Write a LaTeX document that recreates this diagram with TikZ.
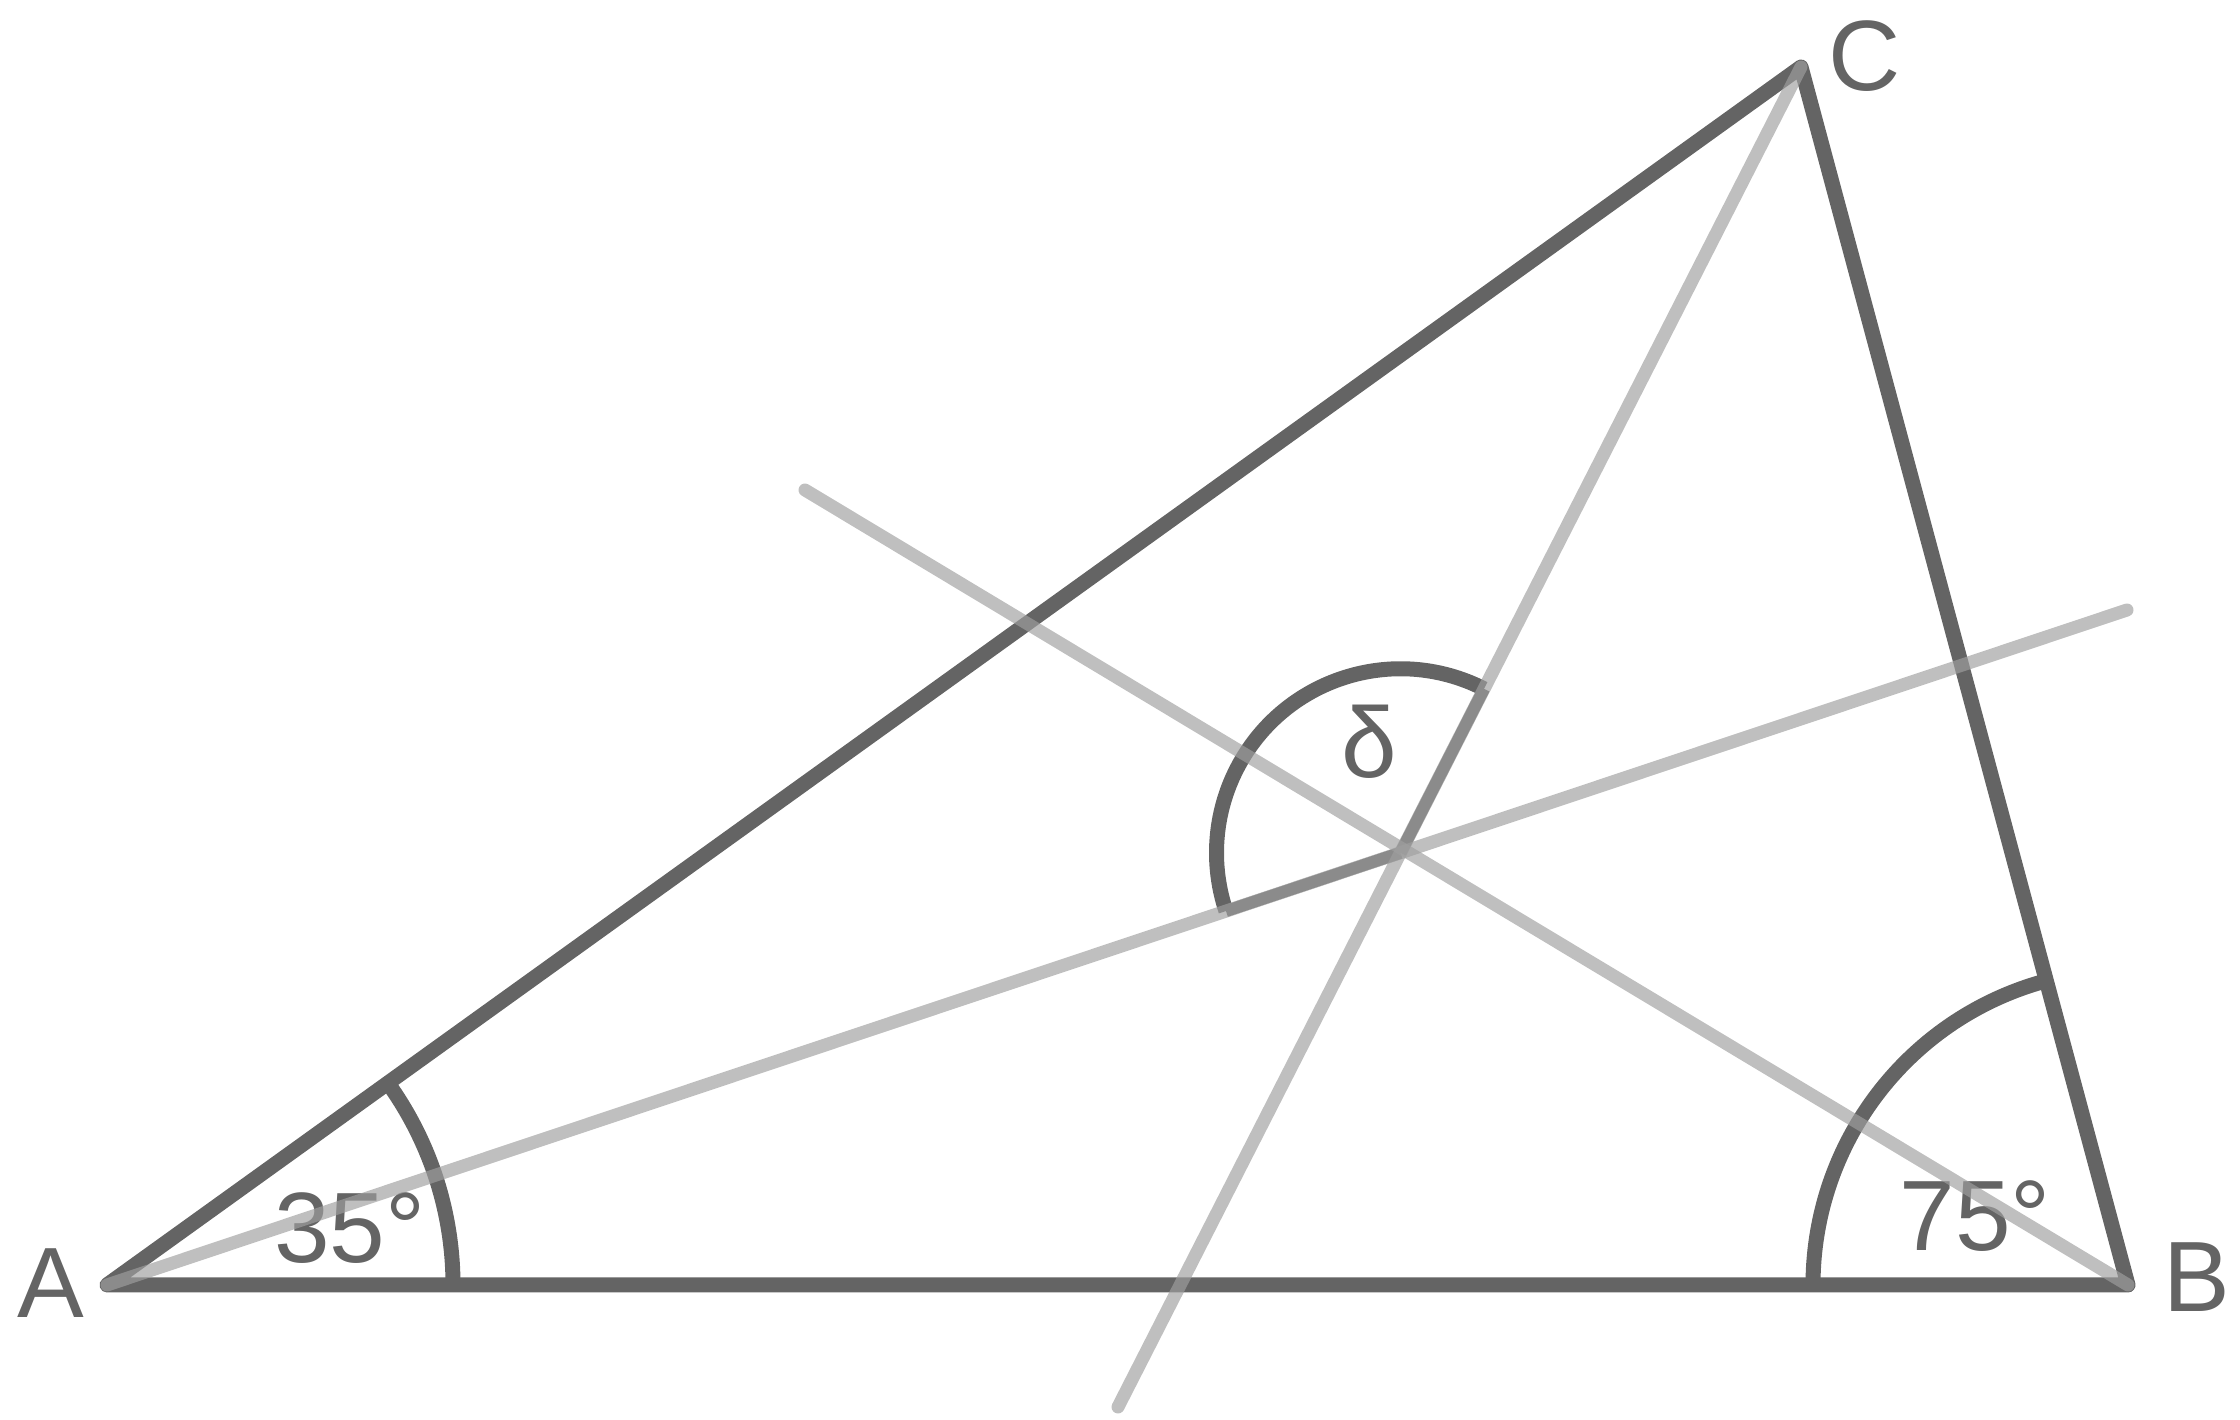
\documentclass[tikz,border=0pt]{standalone}
\usepackage{fontspec}
\setmainfont{Liberation Sans}
\definecolor{dk}{RGB}{100,100,100}
\definecolor{lt}{RGB}{159,159,159}
\begin{document}
\begin{tikzpicture}[x=0.5pt,y=0.5pt,
  side/.style={draw=dk,line width=7.5pt,line cap=round,line join=round},
  anglearc/.style={draw=dk,line width=7.5pt},
  radius line/.style={draw=dk,line width=6pt},
  ray/.style={draw=lt,line width=6.5pt,line cap=round,opacity=0.667},
  lbl/.style={text=dk,inner sep=0pt,font=\fontsize{50pt}{60pt}\selectfont}]
\useasboundingbox (0,0) rectangle (2240,1420);
\coordinate (A) at (107,135);
\coordinate (B) at (2128,135);
\coordinate (C) at (1801,1353);
\coordinate (P) at (1400.5,567.2);
\coordinate (E1) at (2127,810);
\coordinate (E2) at (805,930);
\coordinate (E3) at (1118,13);
% angle arcs
\draw[anglearc] (A) ++(0:173pt) arc[start angle=0,end angle=35.7,radius=173pt];
\draw[anglearc] (B) ++(180:157.5pt) arc[start angle=180,end angle=105,radius=157.5pt];
\draw[anglearc] (P) ++(63.0:92pt) arc[start angle=63.0,end angle=198.47,radius=92pt];
\draw[radius line] (P) -- ++(63.0:92pt);
\draw[radius line] (P) -- ++(198.47:92pt);
% triangle
\draw[side] (A) -- (B) -- (C) -- cycle;
% labels
\node[lbl] (la) at (51,137) {A};
\node[lbl] (lb) at (2197,143) {B};
\node[lbl] (lc) at (1865,1364) {C};
\node[lbl] (l35) at (350,192) {35°};
\node[lbl] (l75) at (1975,204) {75°};
\node[lbl] (ld) at (1369,678) {δ};
% rays
\draw[ray] (A) -- (E1);
\draw[ray] (B) -- (E2);
\draw[ray] (C) -- (E3);
\end{tikzpicture}
\end{document}
